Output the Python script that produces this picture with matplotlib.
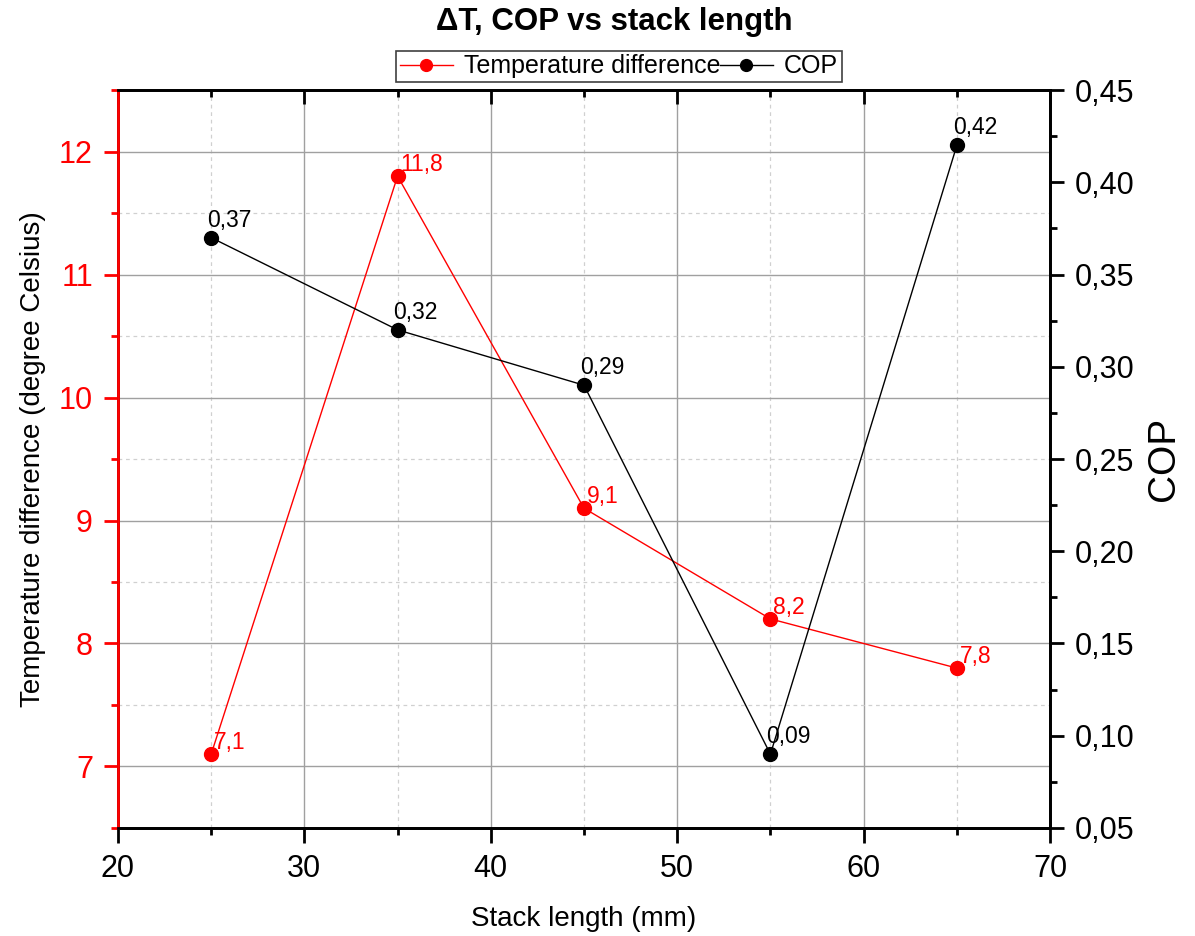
import matplotlib.pyplot as plt
from matplotlib.ticker import MultipleLocator, FuncFormatter
from matplotlib.lines import Line2D

plt.rcParams['font.family'] = ['Liberation Sans', 'DejaVu Sans']

# data
stack_length = [25, 35, 45, 55, 65]
delta_t = [7.1, 11.8, 9.1, 8.2, 7.8]
cop = [0.37, 0.32, 0.29, 0.09, 0.42]

fig = plt.figure(figsize=(11.95, 9.36), dpi=100)
ax = fig.add_axes([0.0987, 0.1154, 0.7800, 0.7884])
ax2 = ax.twinx()

# grid
ax.xaxis.set_major_locator(MultipleLocator(10))
ax.xaxis.set_minor_locator(MultipleLocator(5))
ax.yaxis.set_major_locator(MultipleLocator(1))
ax.yaxis.set_minor_locator(MultipleLocator(0.5))
ax.grid(which='major', color='#a0a0a0', lw=1.0, ls='-')
ax.grid(which='minor', color='#d0d0d0', lw=0.9, ls=(0, (3, 3)))
ax.set_axisbelow(True)

# temperature difference
ax.plot(stack_length, delta_t, color='red', lw=1, marker='o', ms=10,
        zorder=3)
for x, y in zip(stack_length, delta_t):
    ax.annotate(f'{y:.1f}'.replace('.', ','), (x, y), xytext=(2, 3.5),
                textcoords='offset points', ha='left', va='baseline',
                color='red', fontsize=16.5)

# COP
ax2.plot(stack_length, cop, color='black', lw=1, marker='o', ms=10,
         zorder=3)
for x, y in zip(stack_length, cop):
    ax2.annotate(f'{y:.2f}'.replace('.', ','), (x, y), xytext=(-3, 8),
                 textcoords='offset points', ha='left', va='baseline',
                 color='black', fontsize=16.5)

ax.set_xlim(20, 70)
ax.set_ylim(6.5, 12.5)
ax2.set_ylim(0.05, 0.45)
ax2.yaxis.set_major_locator(MultipleLocator(0.05))
ax2.yaxis.set_minor_locator(MultipleLocator(0.025))
ax2.yaxis.set_major_formatter(
    FuncFormatter(lambda v, p: f'{v:.2f}'.replace('.', ',')))

# top ticks pointing inward, drawn by the twin's x axis
ax2.xaxis.set_visible(True)
ax2.tick_params(axis='x', which='both', bottom=False, top=True,
                labelbottom=False, labeltop=False, direction='in', width=2)
ax2.tick_params(axis='x', which='major', length=10)
ax2.tick_params(axis='x', which='minor', length=5)

# spines and ticks
for s in ['left', 'right', 'top', 'bottom']:
    ax.spines[s].set_linewidth(2)
    ax2.spines[s].set_linewidth(2)
ax2.spines['left'].set_color('red')
ax2.spines['right'].set_color('black')

ax.tick_params(axis='x', which='major', direction='out', length=10.5, width=2,
               labelsize=22, pad=8, top=False)
ax.tick_params(axis='x', which='minor', direction='out', length=5, width=2,
               top=False)
ax.tick_params(axis='y', which='major', direction='out', length=10, width=2,
               labelsize=22, colors='red', pad=8)
ax.tick_params(axis='y', which='minor', direction='out', length=5, width=2,
               colors='red')
ax2.tick_params(axis='y', which='major', direction='out', length=10, width=2,
                labelsize=22, pad=8)
ax2.tick_params(axis='y', which='minor', direction='out', length=5, width=2)

ax.set_xlabel('Stack length (mm)', fontsize=20, labelpad=16)
ax.set_ylabel('Temperature difference (degree Celsius)', fontsize=20,
              labelpad=9)
ax2.set_ylabel('COP', fontsize=28, labelpad=8)

fig.text(0.514, 1 - 22 / 936, '\u0394T, COP vs stack length', fontsize=22.5,
         fontweight='bold', ha='center', va='center')

handles = [Line2D([], [], color='red', lw=1, marker='o', ms=8.5),
           Line2D([], [], color='black', lw=1, marker='o', ms=8.5)]
leg = ax.legend(handles, ['Temperature difference', 'COP'], ncol=2,
                loc='lower center', bbox_to_anchor=(0.5376, 1.0), fontsize=18,
                frameon=True, fancybox=False, edgecolor='#404040',
                handlelength=2.1, handletextpad=0.44, columnspacing=0.0,
                borderpad=0.15, borderaxespad=0.32, framealpha=1)
leg.get_frame().set_linewidth(1.2)

fig.savefig('out.png', dpi=100)
